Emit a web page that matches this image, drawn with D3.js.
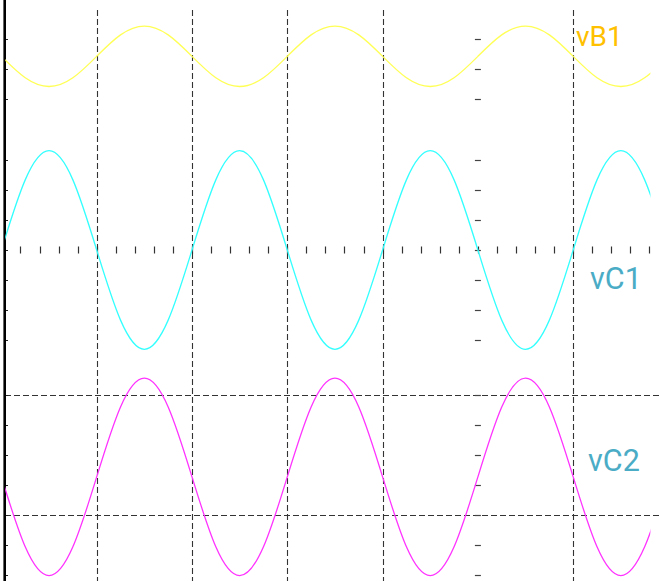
<!DOCTYPE html>
<html>
<head>
<meta charset="utf-8">
<script src="https://cdn.jsdelivr.net/npm/d3@7"></script>
<style>
  body { margin: 0; background: #fff; }
  svg { display: block; font-family: Roboto, "Noto Sans", sans-serif; }
</style>
</head>
<body>
<div class="bigboard"></div>
<script>
// time in screen divisions, sampled every 1/8 period
var times = d3.range(0, 7.001, 0.25);

// channel readings in divisions, relative to each channel's centre line
var vB1 = [0.41,-0.30,-0.59,-0.30,0.41,1.12,1.41,1.12,
           0.41,-0.30,-0.59,-0.30,0.41,1.12,1.41,1.12,
           0.41,-0.30,-0.59,-0.30,0.41,1.12,1.41,1.12,
           0.41,-0.30,-0.59,-0.30,0.41];
var vC1 = [0,2.33,3.30,2.33,0,-2.33,-3.30,-2.33,
           0,2.33,3.30,2.33,0,-2.33,-3.30,-2.33,
           0,2.33,3.30,2.33,0,-2.33,-3.30,-2.33,
           0,2.33,3.30,2.33,0];
var vC2 = [0.27,-2.06,-3.02,-2.06,0.27,2.60,3.56,2.60,
           0.27,-2.06,-3.02,-2.06,0.27,2.60,3.56,2.60,
           0.27,-2.06,-3.02,-2.06,0.27,2.60,3.56,2.60,
           0.27,-2.06,-3.02,-2.06,0.27];

var labels = ["vB1", "vC1", "vC2"];
var divTicksB1 = [-1, 0, 1];
var divTicksC = [-3, -2, -1, 0, 1, 2, 3];
var vGrid = [1, 2, 3, 4, 6];          // dashed verticals, in divisions
var hGridC2 = [3, -1];                // dashed horizontals on channel C2
var minorTicks = d3.range(0.2, 6.81, 0.2);

var W = 661, H = 581;
var tStart = 0.04, tEnd = 6.81;

var x = d3.scaleLinear().domain([0, 7]).range([1.4, 668.5]);
var yB1 = d3.scaleLinear().domain([-1, 1]).range([98.9, 38.5]);
var yC1 = d3.scaleLinear().domain([-3, 3]).range([340.3, 159.7]);
var yC2 = d3.scaleLinear().domain([-3, 3]).range([575, 395]);

var svg = d3.select('.bigboard').append('svg')
  .attr('width', W)
  .attr('height', H);

svg.append('defs').append('clipPath')
  .attr('id', 'screen')
  .append('rect')
  .attr('x', x(tStart))
  .attr('y', 0)
  .attr('width', x(tEnd) - x(tStart))
  .attr('height', H);

// dashed grid
svg.selectAll('.vgrid')
  .data(vGrid).enter().append('line')
  .attr('class', 'vgrid')
  .attr('x1', function(d){ return Math.round(x(d)) + 0.5 })
  .attr('x2', function(d){ return Math.round(x(d)) + 0.5 })
  .attr('y1', 10)
  .attr('y2', H)
  .attr('stroke', '#333')
  .attr('stroke-width', 1.1)
  .attr('stroke-dasharray', '6,3');

svg.selectAll('.hgrid')
  .data(hGridC2).enter().append('line')
  .attr('class', 'hgrid')
  .attr('x1', 5)
  .attr('x2', W)
  .attr('y1', function(d){ return Math.round(yC2(d)) + 0.5 })
  .attr('y2', function(d){ return Math.round(yC2(d)) + 0.5 })
  .attr('stroke', '#333')
  .attr('stroke-width', 1.1)
  .attr('stroke-dasharray', '6,3');

// vertical tick marks on the left axis and at the centre column
var tickRows = divTicksB1.map(function(d){ return yB1(d) })
  .concat(divTicksC.map(function(d){ return yC1(d) }))
  .concat(divTicksC.map(function(d){ return yC2(d) }));

svg.selectAll('.rtick')
  .data(tickRows).enter().append('line')
  .attr('class', 'rtick')
  .attr('x1', x(5) - 3)
  .attr('x2', x(5) + 3)
  .attr('y1', function(d){ return Math.round(d) + 0.5 })
  .attr('y2', function(d){ return Math.round(d) + 0.5 })
  .attr('stroke', '#444')
  .attr('stroke-width', 1.2);

svg.selectAll('.ltick')
  .data(tickRows).enter().append('line')
  .attr('class', 'ltick')
  .attr('x1', 4)
  .attr('x2', 8)
  .attr('y1', function(d){ return Math.round(d) + 0.5 })
  .attr('y2', function(d){ return Math.round(d) + 0.5 })
  .attr('stroke', '#222')
  .attr('stroke-width', 1);

// horizontal centre ticks
svg.selectAll('.htick')
  .data(minorTicks).enter().append('line')
  .attr('class', 'htick')
  .attr('x1', function(d){ return Math.round(x(d)) + 0.5 })
  .attr('x2', function(d){ return Math.round(x(d)) + 0.5 })
  .attr('y1', yC1(0) - 3.5)
  .attr('y2', yC1(0) + 3.5)
  .attr('stroke', '#333')
  .attr('stroke-width', 1.2);

// left axis line
svg.append('line')
  .attr('x1', 4.7).attr('x2', 4.7)
  .attr('y1', 0).attr('y2', H)
  .attr('stroke', '#000')
  .attr('stroke-width', 2.6);

// traces
var traces = [
  { vals: vB1, y: yB1, color: '#ffff55' },
  { vals: vC1, y: yC1, color: '#33ffff' },
  { vals: vC2, y: yC2, color: '#ff33ff' }
];

svg.selectAll('.trace')
  .data(traces).enter().append('path')
  .attr('class', 'trace')
  .attr('clip-path', 'url(#screen)')
  .attr('fill', 'none')
  .attr('stroke', function(d){ return d.color })
  .attr('stroke-width', 1.3)
  .attr('d', function(d){
    return d3.line()
      .x(function(v, i){ return x(times[i]) })
      .y(function(v){ return d.y(v) })
      .curve(d3.curveNatural)(d.vals);
  });

// channel labels
var labelPos = [[576, 45.5, 28, '#ffc000'], [590, 288.5, 30.5, '#4bacc6'], [588, 470.5, 30.5, '#4bacc6']];

svg.selectAll('.chan')
  .data(labels).enter().append('text')
  .attr('class', 'chan')
  .attr('x', function(d, i){ return labelPos[i][0] })
  .attr('y', function(d, i){ return labelPos[i][1] })
  .attr('font-size', function(d, i){ return labelPos[i][2] + 'px' })
  .attr('fill', function(d, i){ return labelPos[i][3] })
  .text(function(d){ return d });
</script>
</body>
</html>
